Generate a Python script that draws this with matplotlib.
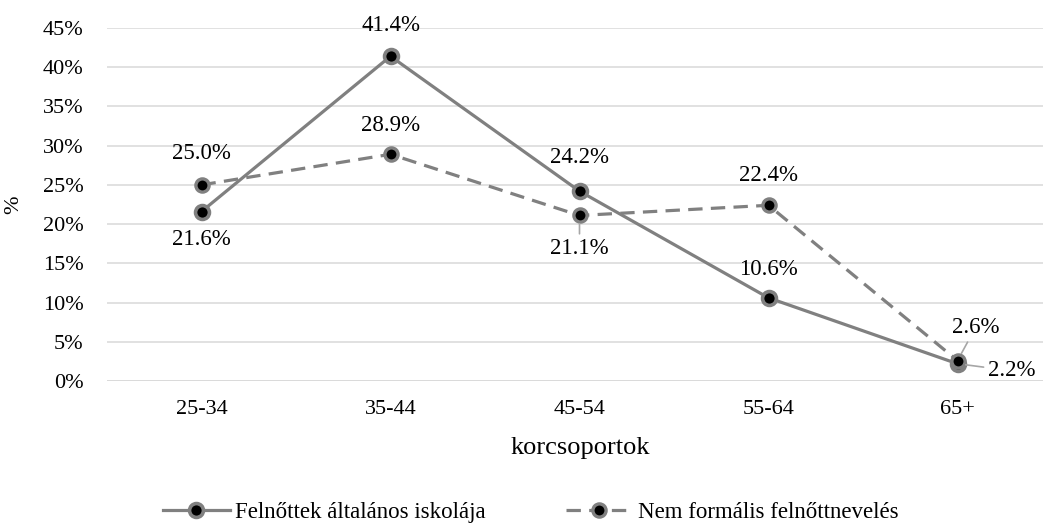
"""Age-group participation in adult schooling vs. non-formal adult education."""

import matplotlib.pyplot as plt
from matplotlib.ticker import FuncFormatter, MultipleLocator

plt.rcParams["font.family"] = ["Liberation Serif", "DejaVu Serif"]

age_groups = ["25-34", "35-44", "45-54", "55-64", "65+"]
school = [21.6, 41.4, 24.2, 10.6, 2.2]
nonformal = [25.0, 28.9, 21.1, 22.4, 2.6]
school_name = "Felnőttek általános iskolája"
nonformal_name = "Nem formális felnőttnevelés"

# label offsets in pixels (dx, dy) and whether a leader line is drawn
school_offsets = [(0, -28, False), (0, 31, False), (0, 34, False), (0, 28, False), (54, -7, True)]
nonformal_offsets = [(0, 31, False), (0, 29, False), (0, -33, True), (0, 30, False), (18, 33, True)]

GRAY = "#808080"
TICK_FS = 16
LABEL_FS = 16.5
TITLE_FS = 19
LEGEND_FS = 16.5


def render() -> None:
    fig = plt.figure(figsize=(10.43, 5.24), dpi=100)
    ax = fig.add_axes([107 / 1043, 143 / 524, 945 / 1043, 353 / 524])
    x = range(len(age_groups))

    ax.plot(x, school, color=GRAY, lw=2.3, marker="o", ms=10, mfc="black",
            mec=GRAY, mew=2.6, label=school_name, zorder=3)
    ax.plot(x, nonformal, color=GRAY, lw=2.3, ls=(0, (4.5, 2.6)), marker="o",
            ms=9.5, mfc="black", mec=GRAY, mew=2.4, label=nonformal_name, zorder=3)

    for series, offsets in ((school, school_offsets), (nonformal, nonformal_offsets)):
        for i, (v, (dx, dy, lead)) in enumerate(zip(series, offsets)):
            props = None
            if lead:
                props = dict(arrowstyle="-", color="#A6A6A6", lw=1.2,
                             shrinkA=1, shrinkB=6)
            ax.annotate(f"{v:.1f}%", (i, v), xytext=(dx, dy),
                        textcoords="offset pixels", ha="center", va="center",
                        fontsize=LABEL_FS, arrowprops=props, zorder=4)

    ax.set_xlim(-0.5, len(age_groups) - 0.5)
    ax.set_ylim(0, 45)
    ax.yaxis.set_major_locator(MultipleLocator(5))
    ax.yaxis.set_major_formatter(FuncFormatter(lambda v, _: f"{v:.0f}%"))
    ax.set_xticks(list(x))
    ax.set_xticklabels(age_groups)
    ax.tick_params(length=0, labelsize=TICK_FS)
    ax.tick_params(axis="y", pad=17)
    ax.tick_params(axis="x", pad=14)
    ax.grid(axis="y", color="#D9D9D9", lw=1.1)
    ax.set_axisbelow(True)
    for s in ax.spines.values():
        s.set_visible(False)
    ax.axhline(0, color="#D9D9D9", lw=1.1, zorder=1)

    fig.text(580 / 1043, 1 - 448 / 524, "korcsoportok", ha="center", va="center",
             fontsize=TITLE_FS)
    fig.text(14 / 1043, 1 - 205 / 524, "%", ha="center", va="center",
             rotation=90, fontsize=TICK_FS)

    fig.legend(loc="center", bbox_to_anchor=(531 / 1043, 12 / 524), ncol=2,
               frameon=False, fontsize=LEGEND_FS, handlelength=2.9,
               columnspacing=3.5, handletextpad=0.25)

    fig.savefig("out.png", dpi=100)
    plt.close(fig)


if __name__ == "__main__":
    render()
